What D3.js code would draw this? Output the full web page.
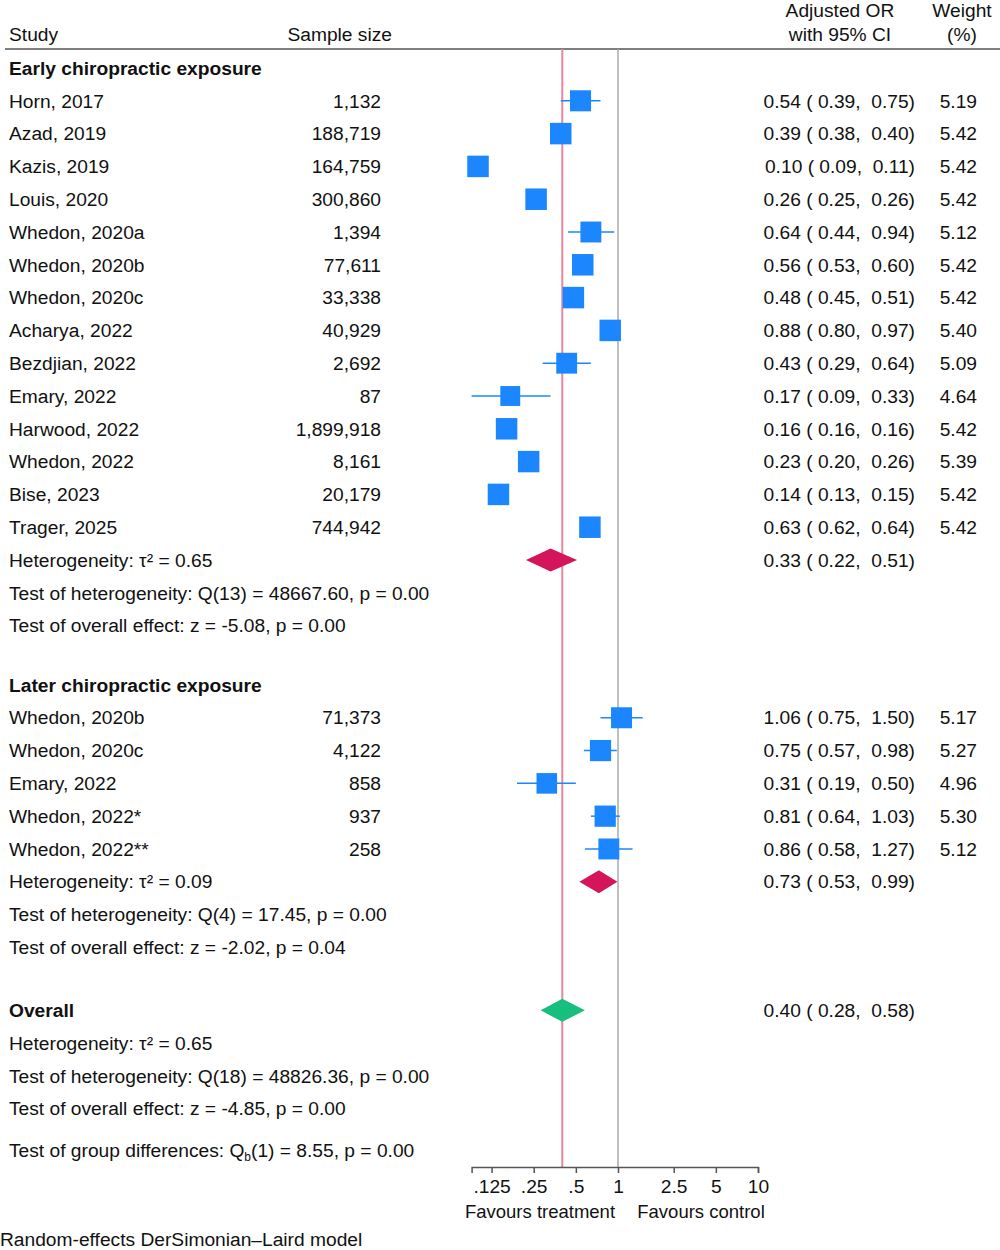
<!DOCTYPE html>
<html>
<head>
<meta charset="utf-8">
<script src="https://cdn.jsdelivr.net/npm/d3@7"></script>
<style>
  body { margin: 0; background: #fff; }
  text { font-family: "Liberation Sans", Arial, Helvetica, sans-serif; font-size: 19.2px; fill: #111; white-space: pre; }
</style>
</head>
<body>
<script>
const width = 1000;
const height = 1250;

// study level data
const studyNames = ["Horn, 2017", "Azad, 2019", "Kazis, 2019", "Louis, 2020", "Whedon, 2020a", "Whedon, 2020b",
  "Whedon, 2020c", "Acharya, 2022", "Bezdjian, 2022", "Emary, 2022", "Harwood, 2022", "Whedon, 2022",
  "Bise, 2023", "Trager, 2025",
  "Whedon, 2020b", "Whedon, 2020c", "Emary, 2022", "Whedon, 2022*", "Whedon, 2022**"];
const studyGroup = [0,0,0,0,0,0,0,0,0,0,0,0,0,0, 1,1,1,1,1];
const sampleSizes = ["1,132", "188,719", "164,759", "300,860", "1,394", "77,611", "33,338", "40,929", "2,692", "87",
  "1,899,918", "8,161", "20,179", "744,942", "71,373", "4,122", "858", "937", "258"];
const studyOR = [0.54, 0.39, 0.10, 0.26, 0.64, 0.56, 0.48, 0.88, 0.43, 0.17, 0.16, 0.23, 0.14, 0.63,
  1.06, 0.75, 0.31, 0.81, 0.86];
const studyLo = [0.39, 0.38, 0.09, 0.25, 0.44, 0.53, 0.45, 0.80, 0.29, 0.09, 0.16, 0.20, 0.13, 0.62,
  0.75, 0.57, 0.19, 0.64, 0.58];
const studyHi = [0.75, 0.40, 0.11, 0.26, 0.94, 0.60, 0.51, 0.97, 0.64, 0.33, 0.16, 0.26, 0.15, 0.64,
  1.50, 0.98, 0.50, 1.03, 1.27];
const studyWeight = [5.19, 5.42, 5.42, 5.42, 5.12, 5.42, 5.42, 5.40, 5.09, 4.64, 5.42, 5.39, 5.42, 5.42,
  5.17, 5.27, 4.96, 5.30, 5.12];

// group summaries
const groupNames = ["Early chiropractic exposure", "Later chiropractic exposure"];
const groupOR = [0.33, 0.73];
const groupLo = [0.22, 0.53];
const groupHi = [0.51, 0.99];
const groupTau2 = ["0.65", "0.09"];
const groupQ = ["Q(13) = 48667.60, p = 0.00", "Q(4) = 17.45, p = 0.00"];
const groupZ = ["z = -5.08, p = 0.00", "z = -2.02, p = 0.04"];

const overallOR = 0.40, overallLo = 0.28, overallHi = 0.58;
const overallTau2 = "0.65";
const overallQ = "Q(18) = 48826.36, p = 0.00";
const overallZ = "z = -4.85, p = 0.00";
const groupDiff = "(1) = 8.55, p = 0.00";

const tickValues = [0.125, 0.25, 0.5, 1, 2.5, 5, 10];
const tickLabels = [".125", ".25", ".5", "1", "2.5", "5", "10"];

// layout
const rowStep = 32.8;
const firstRowY = 68;
const colStudy = 9, colSample = 381, colCI = 915, colWeight = 977;
const blue = "#1c86fe", crimson = "#d4155c", green = "#17bf7f";

const svg = d3.select("body").append("svg")
  .attr("width", width)
  .attr("height", height);

// build rows: slot positions in row units
let rows = [];
let slot = 0;
groupNames.forEach((g, gi) => {
  if (gi > 0) slot += 0.81;
  rows.push({type: "group", label: g, slot: slot}); slot += 1;
  studyNames.forEach((s, i) => {
    if (studyGroup[i] !== gi) return;
    rows.push({type: "study", label: s, n: sampleSizes[i], or: studyOR[i], lo: studyLo[i], hi: studyHi[i], w: studyWeight[i], slot: slot});
    slot += 1;
  });
  rows.push({type: "summary", label: "Heterogeneity: τ² = " + groupTau2[gi], or: groupOR[gi], lo: groupLo[gi], hi: groupHi[gi], color: crimson, slot: slot}); slot += 1;
  rows.push({type: "text", label: "Test of heterogeneity: " + groupQ[gi], slot: slot}); slot += 1;
  rows.push({type: "text", label: "Test of overall effect: " + groupZ[gi], slot: slot}); slot += 1;
});
slot += 0.92;
rows.push({type: "summary", label: "Overall", bold: true, or: overallOR, lo: overallLo, hi: overallHi, color: green, slot: slot}); slot += 1;
rows.push({type: "text", label: "Heterogeneity: τ² = " + overallTau2, slot: slot}); slot += 1;
rows.push({type: "text", label: "Test of heterogeneity: " + overallQ, slot: slot}); slot += 1;
rows.push({type: "text", label: "Test of overall effect: " + overallZ, slot: slot}); slot += 1;
rows.push({type: "qb", slot: slot + 0.27});

const y = d3.scaleLinear().domain([0, 1]).range([firstRowY, firstRowY + rowStep]);
const x = d3.scaleLog().domain([0.09, 10]).range([471.6, 758]);

const axisY = 1167;
const topY = 49;

const fmt = d3.format(".2f");
const pad = v => (v < 10 ? " " : "") + fmt(v);
const ciText = d => fmt(d.or) + " (" + pad(d.lo) + ", " + pad(d.hi) + ")";

// header
const head = svg.append("g");
head.append("text").attr("x", colStudy).attr("y", 34).attr("dy", "0.35em").text("Study");
head.append("text").attr("x", 392).attr("y", 34).attr("dy", "0.35em").attr("text-anchor", "end").text("Sample size");
head.append("text").attr("x", 840).attr("y", 10).attr("dy", "0.35em").attr("text-anchor", "middle").text("Adjusted OR");
head.append("text").attr("x", 840).attr("y", 34).attr("dy", "0.35em").attr("text-anchor", "middle").text("with 95% CI");
head.append("text").attr("x", 962).attr("y", 10).attr("dy", "0.35em").attr("text-anchor", "middle").text("Weight");
head.append("text").attr("x", 962).attr("y", 34).attr("dy", "0.35em").attr("text-anchor", "middle").text("(%)");
head.append("line").attr("x1", 5).attr("x2", 1000).attr("y1", topY).attr("y2", topY)
  .attr("stroke", "#555").attr("stroke-width", 1.5);

// reference lines
svg.append("line").attr("x1", x(1)).attr("x2", x(1)).attr("y1", topY).attr("y2", axisY)
  .attr("stroke", "#aaa").attr("stroke-width", 1.5);
svg.append("line").attr("x1", x(overallOR)).attr("x2", x(overallOR)).attr("y1", topY).attr("y2", axisY)
  .attr("stroke", "#e8879d").attr("stroke-width", 2);

// left text
const labels = svg.append("g");
labels.selectAll("text.label")
  .data(rows.filter(d => d.type !== "qb"))
  .enter().append("text")
  .attr("class", "label")
  .attr("x", colStudy)
  .attr("y", d => y(d.slot))
  .attr("dy", "0.35em")
  .attr("font-weight", d => (d.type === "group" || d.bold) ? "bold" : null)
  .text(d => d.label);

const qb = rows.find(d => d.type === "qb");
const qbText = labels.append("text").attr("x", colStudy).attr("y", y(qb.slot)).attr("dy", "0.35em");
qbText.append("tspan").text("Test of group differences: Q");
qbText.append("tspan").style("font-size", "12px").attr("dy", "4").text("b");
qbText.append("tspan").attr("dy", "-4").text(groupDiff);

const studies = rows.filter(d => d.type === "study");
labels.selectAll("text.n")
  .data(studies)
  .enter().append("text")
  .attr("class", "n")
  .attr("x", colSample)
  .attr("y", d => y(d.slot))
  .attr("dy", "0.35em")
  .attr("text-anchor", "end")
  .text(d => d.n);

// right columns
const withCI = rows.filter(d => d.or !== undefined);
labels.selectAll("text.ci")
  .data(withCI)
  .enter().append("text")
  .attr("class", "ci")
  .attr("x", colCI)
  .attr("y", d => y(d.slot))
  .attr("dy", "0.35em")
  .attr("text-anchor", "end")
  .text(ciText);

labels.selectAll("text.w")
  .data(studies)
  .enter().append("text")
  .attr("class", "w")
  .attr("x", colWeight)
  .attr("y", d => y(d.slot))
  .attr("dy", "0.35em")
  .attr("text-anchor", "end")
  .text(d => fmt(d.w));

// markers
const marks = svg.append("g");
marks.selectAll("line.ci")
  .data(studies)
  .enter().append("line")
  .attr("class", "ci")
  .attr("x1", d => x(d.lo)).attr("x2", d => x(d.hi))
  .attr("y1", d => y(d.slot)).attr("y2", d => y(d.slot))
  .attr("stroke", blue).attr("stroke-width", 1.5);

const size = d3.scaleSqrt().domain([0, 5.42]).range([0, 21.5]);
marks.selectAll("rect.box")
  .data(studies)
  .enter().append("rect")
  .attr("class", "box")
  .attr("x", d => x(d.or) - size(d.w) / 2)
  .attr("y", d => y(d.slot) - size(d.w) / 2)
  .attr("width", d => size(d.w))
  .attr("height", d => size(d.w))
  .attr("fill", blue);

const half = 11.5;
marks.selectAll("path.diamond")
  .data(rows.filter(d => d.type === "summary"))
  .enter().append("path")
  .attr("class", "diamond")
  .attr("d", d => {
    const cy = y(d.slot);
    return "M" + x(d.lo) + "," + cy + "L" + x(d.or) + "," + (cy - half) +
      "L" + x(d.hi) + "," + cy + "L" + x(d.or) + "," + (cy + half) + "Z";
  })
  .attr("fill", d => d.color);

// axis
const axis = svg.append("g")
  .attr("transform", "translate(0," + axisY + ")")
  .call(d3.axisBottom(x).tickValues(tickValues).tickFormat((d, i) => tickLabels[i]).tickSize(6).tickPadding(6));
axis.select(".domain").attr("stroke", "#555").attr("stroke-width", 1.5);
axis.selectAll(".tick line").attr("stroke", "#555").attr("stroke-width", 1.5);
axis.selectAll(".tick text").style("font-size", "19.2px").attr("fill", "#111");

svg.append("text").attr("x", 540).attr("y", 1212).attr("dy", "0.35em").attr("text-anchor", "middle").style("font-size", "18.5px").text("Favours treatment");
svg.append("text").attr("x", 701).attr("y", 1212).attr("dy", "0.35em").attr("text-anchor", "middle").style("font-size", "18.5px").text("Favours control");

svg.append("text").attr("x", 0).attr("y", 1239).attr("dy", "0.35em").text("Random-effects DerSimonian–Laird model");
</script>
</body>
</html>
